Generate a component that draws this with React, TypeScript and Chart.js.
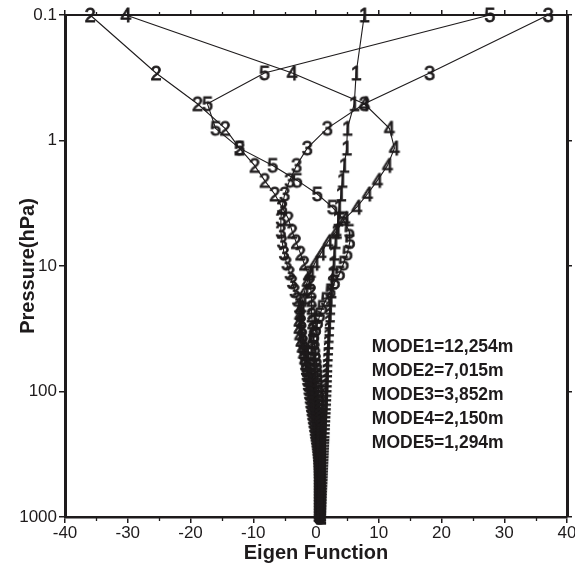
import React, { useEffect, useRef } from "react";
import { Chart, registerables } from "chart.js";

Chart.register(...registerables);

// Pressure levels (hPa), top to bottom
const pressureLevels = [
  0.1, 0.29, 0.51, 0.8, 1.15, 1.58, 2.08, 2.67, 3.4, 4.2, 5.3, 6.4, 7.9, 9.5, 11.4, 13.4,
  15.8, 18.5, 21.4, 24.6, 27.9, 31.8, 35.8, 40.3, 45, 50.2, 55.6, 61.5, 67.4, 73.9, 81, 88.7,
  96.4, 104.7, 113.7, 123.6, 133, 143, 154, 166, 178, 192,
  206, 218, 229, 242, 255, 269, 283, 298, 314, 331, 349, 368, 388, 409, 431, 454,
  479, 505, 532, 561, 591, 623, 657, 692, 730, 769, 810, 854, 900, 949, 1000,
];

const mode1 = [
  7.7, 6.4, 6.1, 5.0, 4.9, 4.5, 4.2, 4.0,
  3.7, 3.5, 3.3, 3.1, 2.9, 2.8, 2.65, 2.55,
  2.45, 2.35, 2.25, 2.2, 2.1, 2.05, 2.0, 1.95,
  1.9, 1.85, 1.8, 1.78, 1.75, 1.72, 1.7, 1.67,
  1.64, 1.61, 1.58, 1.55, 1.52, 1.49, 1.46, 1.43, 1.4, 1.37,
  1.34, 1.32, 1.3, 1.28, 1.26, 1.24, 1.22, 1.2, 1.18, 1.16, 1.14, 1.12, 1.1, 1.08, 1.06, 1.04,
  1.02, 1.0, 0.98, 0.96, 0.94, 0.92, 0.9, 0.88, 0.86, 0.84, 0.82, 0.8, 0.79, 0.78, 0.77,
];

const mode2 = [
  -36, -25.5, -18.9, -14.5, -12.2, -9.8, -8.2, -6.6,
  -5.4, -4.4, -3.8, -3.2, -2.5, -1.9, -1.3, -1.0,
  -0.8, -0.7, -0.7, -0.7, -0.6, -0.5, -0.4, -0.3,
  -0.2, -0.1, 0.0, 0.1, 0.2, 0.25, 0.3, 0.35,
  0.4, 0.45, 0.5, 0.55, 0.58, 0.6, 0.62, 0.64, 0.66, 0.68,
  0.7, 0.71, 0.72, 0.73, 0.74, 0.75, 0.76, 0.77, 0.78, 0.78, 0.79, 0.79, 0.8, 0.8, 0.8, 0.8,
  0.8, 0.8, 0.8, 0.8, 0.8, 0.8, 0.8, 0.8, 0.8, 0.8, 0.8, 0.8, 0.8, 0.8, 0.8,
];

const mode3 = [
  37, 18.1, 7.7, 1.8, -1.4, -3.1, -4.2, -5.0,
  -5.4, -5.6, -5.6, -5.4, -5.1, -4.7, -4.2, -3.8,
  -3.4, -3.0, -2.7, -2.5, -2.4, -2.3, -2.2, -2.1,
  -2.0, -1.9, -1.8, -1.7, -1.6, -1.5, -1.4, -1.3,
  -1.2, -1.1, -1.0, -0.9, -0.8, -0.7, -0.6, -0.5, -0.4, -0.3,
  -0.2, -0.13, -0.06, 0.0, 0.06, 0.12, 0.17, 0.22, 0.27, 0.31, 0.35, 0.38, 0.41, 0.43, 0.45, 0.47,
  0.48, 0.49, 0.5, 0.5, 0.5, 0.5, 0.5, 0.5, 0.5, 0.5, 0.5, 0.5, 0.5, 0.5, 0.5,
];

const mode4 = [
  -30.3, -3.8, 7.7, 11.7, 12.5, 11.4, 9.8, 8.2,
  6.5, 4.6, 3.2, 1.9, 0.8, -0.2, -0.9, -1.4,
  -1.8, -2.1, -2.4, -2.6, -2.7, -2.7, -2.6, -2.4,
  -2.2, -2.0, -1.8, -1.6, -1.4, -1.2, -1.0, -0.85,
  -0.7, -0.55, -0.4, -0.3, -0.2, -0.1, 0.0, 0.1, 0.2, 0.25,
  0.3, 0.33, 0.36, 0.39, 0.41, 0.43, 0.45, 0.46, 0.47, 0.48, 0.49, 0.5, 0.5, 0.5, 0.5, 0.5,
  0.5, 0.5, 0.5, 0.5, 0.5, 0.5, 0.5, 0.5, 0.5, 0.5, 0.5, 0.5, 0.5, 0.5, 0.5,
];

const mode5 = [
  27.7, -8.2, -17.3, -16.0, -12.2, -6.9, -3.0, 0.2,
  2.6, 4.3, 5.3, 5.4, 5.0, 4.4, 3.8, 3.0,
  2.3, 1.6, 1.0, 0.6, 0.3, 0.0, -0.3, -0.5,
  -0.7, -0.8, -0.85, -0.85, -0.8, -0.75, -0.65, -0.55,
  -0.45, -0.35, -0.25, -0.15, -0.05, 0.05, 0.15, 0.2, 0.25, 0.3,
  0.35, 0.38, 0.41, 0.44, 0.47, 0.5, 0.52, 0.54, 0.56, 0.58, 0.6, 0.6, 0.6, 0.6, 0.6, 0.6,
  0.6, 0.6, 0.6, 0.6, 0.6, 0.6, 0.6, 0.6, 0.6, 0.6, 0.6, 0.6, 0.6, 0.6, 0.6,
];

const modeMarks = ["1", "2", "3", "4", "5"];
const modeNotes = ["MODE1=12,254m", "MODE2=7,015m", "MODE3=3,852m", "MODE4=2,150m", "MODE5=1,294m"];
const pressureTicks = [0.1, 1, 10, 100, 1000];
const xMinorTicks = [-35, -25, -15, -5, 5, 15, 25, 35];

const FONT = '"Liberation Sans", Arial, Helvetica, sans-serif';
const INK = "#1e1b1c";

function makeGlyph(ch: string): HTMLCanvasElement {
  const c = document.createElement("canvas");
  c.width = 18;
  c.height = 26;
  const g = c.getContext("2d")!;
  g.font = `20px ${FONT}`;
  g.fillStyle = INK;
  g.strokeStyle = INK;
  g.lineWidth = 0.8;
  g.textAlign = "center";
  g.textBaseline = "alphabetic";
  g.fillText(ch, 9, 20.2);
  g.strokeText(ch, 9, 20.2);
  return c;
}

const minorTickPlugin = {
  id: "minorTicks",
  beforeDatasetsDraw(chart: any) {
    const { ctx, chartArea, scales } = chart;
    ctx.save();
    ctx.strokeStyle = INK;
    ctx.lineWidth = 1.3;
    for (const v of xMinorTicks) {
      const px = Math.round(scales.x.getPixelForValue(v)) + 0.5;
      ctx.beginPath();
      ctx.moveTo(px, chartArea.bottom);
      ctx.lineTo(px, chartArea.bottom + 4);
      ctx.stroke();
      ctx.beginPath();
      ctx.moveTo(px, chartArea.top);
      ctx.lineTo(px, chartArea.top - 3);
      ctx.stroke();
    }
    ctx.restore();
  },
};

const notesPlugin = {
  id: "modeNotes",
  afterDatasetsDraw(chart: any) {
    const { ctx, scales } = chart;
    const x0 = scales.x.getPixelForValue(8.9);
    const y0 = scales.y.getPixelForValue(44.5);
    ctx.save();
    ctx.font = `bold 17.5px ${FONT}`;
    ctx.fillStyle = INK;
    ctx.textAlign = "left";
    ctx.textBaseline = "middle";
    modeNotes.forEach((t, i) => {
      ctx.fillText(t, x0, y0 + i * 24);
    });
    ctx.restore();
  },
};

export default function App() {
  const ref = useRef<HTMLCanvasElement | null>(null);

  useEffect(() => {
    document.body.style.margin = "0";
    const canvas = ref.current;
    if (!canvas) return;
    const modes = [mode1, mode2, mode3, mode4, mode5];
    const datasets = modes.map((vals, k) => ({
      label: "Mode " + modeMarks[k],
      data: vals.map((v, i) => ({ x: v, y: pressureLevels[i] })),
      showLine: true,
      borderColor: INK,
      borderWidth: 1.1,
      backgroundColor: INK,
      pointStyle: makeGlyph(modeMarks[k]),
      pointRadius: 4,
      pointHoverRadius: 4,
      clip: false,
      tension: 0,
    }));

    const tickFont = { family: FONT, size: 17 };
    const logTicks = (s: any) => {
      s.ticks = pressureTicks.map((v) => ({ value: v }));
    };

    const chart = new Chart(canvas, {
      type: "scatter",
      data: { datasets: datasets as any },
      options: {
        animation: false,
        responsive: false,
        devicePixelRatio: 1,
        layout: { padding: 0 },
        plugins: {
          legend: { display: false },
          tooltip: { enabled: false },
          title: { display: false },
        },
        scales: {
          x: {
            type: "linear",
            position: "bottom",
            min: -40,
            max: 40,
            ticks: {
              stepSize: 10,
              font: tickFont,
              color: INK,
              padding: 0,
              maxRotation: 0,
              autoSkip: false,
              callback: (v: any) => String(v),
            },
            grid: { drawOnChartArea: false, tickLength: 6, color: INK, lineWidth: 1.5 },
            border: { display: true, color: INK, width: 2.5 },
            title: {
              display: true,
              text: "Eigen Function",
              color: INK,
              font: { family: FONT, size: 20, weight: "bold" },
              padding: { top: 0, bottom: 4 },
            },
            afterFit: (s: any) => {
              s.height = 52;
              s.paddingLeft = 0;
              s.paddingRight = 0;
            },
          },
          x2: {
            type: "linear",
            position: "top",
            min: -40,
            max: 40,
            ticks: { display: false, stepSize: 10 },
            grid: { drawOnChartArea: false, tickLength: 5, color: INK, lineWidth: 1.5 },
            border: { display: true, color: INK, width: 2 },
            afterFit: (s: any) => {
              s.height = 15;
              s.paddingLeft = 0;
              s.paddingRight = 0;
            },
          },
          y: {
            type: "logarithmic",
            position: "left",
            reverse: true,
            min: 0.1,
            max: 1000,
            afterBuildTicks: logTicks,
            ticks: {
              font: tickFont,
              color: INK,
              padding: 2,
              autoSkip: false,
              callback: (v: any) => String(v),
            },
            grid: { drawOnChartArea: false, tickLength: 6, color: INK, lineWidth: 1.5 },
            border: { display: true, color: INK, width: 3 },
            title: {
              display: true,
              text: "Pressure(hPa)",
              color: INK,
              font: { family: FONT, size: 20, weight: "bold" },
              padding: { top: 16, bottom: 0 },
            },
            afterFit: (s: any) => {
              s.width = 65;
              s.paddingTop = 0;
              s.paddingBottom = 0;
            },
          },
          y2: {
            type: "logarithmic",
            position: "right",
            reverse: true,
            min: 0.1,
            max: 1000,
            afterBuildTicks: logTicks,
            ticks: { display: false },
            grid: { drawOnChartArea: false, tickLength: 5, color: INK, lineWidth: 1.5 },
            border: { display: true, color: INK, width: 3 },
            afterFit: (s: any) => {
              s.width = 8;
              s.paddingTop = 0;
              s.paddingBottom = 0;
            },
          },
        },
      } as any,
      plugins: [minorTickPlugin, notesPlugin],
    });

    return () => chart.destroy();
  }, []);

  return (
    <div style={{ width: 575, height: 569, background: "#fff" }}>
      <canvas ref={ref} width={575} height={569} style={{ display: "block" }} />
    </div>
  );
}
